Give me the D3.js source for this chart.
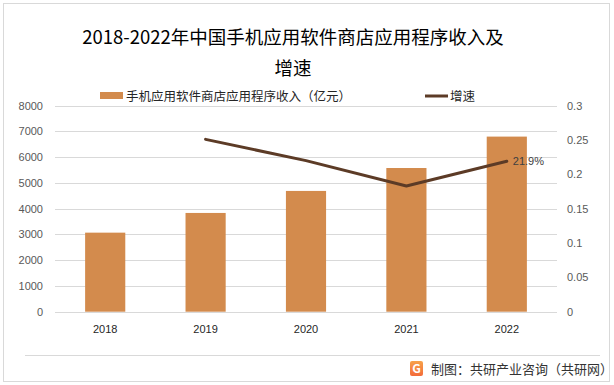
<!DOCTYPE html>
<html>
<head>
<meta charset="utf-8">
<script src="https://cdn.jsdelivr.net/npm/d3@7"></script>
<style>
  body { margin: 0; background: #fff; }
  svg { display: block; font-family: "Noto Sans CJK SC", "Noto Sans", sans-serif; }
  .grid line { stroke: #d9d9d9; stroke-width: 1; }
  .axis text { fill: #595959; font-size: 11px; font-family: "Liberation Sans", "Noto Sans", sans-serif; }
  .axis path, .axis line { display: none; }
  .xlab text { fill: #262626; }
</style>
</head>
<body>
<script>
// Chart data
var years = ["2018", "2019", "2020", "2021", "2022"];
var revenue = [3070, 3835, 4690, 5580, 6800];
var growth = [null, 0.251, 0.22, 0.183, 0.219];
var leftTicks = [0, 1000, 2000, 3000, 4000, 5000, 6000, 7000, 8000];
var rightTicks = [0, 0.05, 0.1, 0.15, 0.2, 0.25, 0.3];

var W = 614, H = 385;
var plot = { left: 55, right: 557, top: 105.7, bottom: 311.7 };

var svg = d3.select("body").append("svg")
  .attr("width", W)
  .attr("height", H);

// outer frame
svg.append("rect")
  .attr("x", 3.5).attr("y", 3.5)
  .attr("width", W - 8).attr("height", H - 7)
  .attr("fill", "none")
  .attr("stroke", "#d9d9d9");

// title
var title = svg.append("text")
  .attr("text-anchor", "middle")
  .attr("fill", "#000")
  .style("font-size", "18.5px");
title.append("tspan").attr("x", 293).attr("y", 44).text("2018-2022年中国手机应用软件商店应用程序收入及");
title.append("tspan").attr("x", 293).attr("y", 75).text("增速");

// scales
var x = d3.scaleBand()
  .domain(years)
  .range([plot.left, plot.right])
  .paddingInner(0.6)
  .paddingOuter(0.3);

var y = d3.scaleLinear().domain([0, 8000]).range([plot.bottom, plot.top]);
var y2 = d3.scaleLinear().domain([0, 0.3]).range([plot.bottom, plot.top]);

// gridlines
svg.append("g")
  .attr("class", "grid")
  .selectAll("line")
  .data(leftTicks)
  .enter().append("line")
  .attr("x1", plot.left)
  .attr("x2", plot.right)
  .attr("y1", function(d) { return Math.round(y(d)) + 0.5; })
  .attr("y2", function(d) { return Math.round(y(d)) + 0.5; });

// left axis
svg.append("g")
  .attr("class", "axis")
  .attr("transform", "translate(" + (plot.left + 2) + ",0)")
  .call(d3.axisLeft(y).tickValues(leftTicks).tickSize(0).tickPadding(14).tickFormat(d3.format("d")));

// right axis
svg.append("g")
  .attr("class", "axis")
  .attr("transform", "translate(" + (plot.right + 10) + ",0)")
  .call(d3.axisRight(y2).tickValues(rightTicks).tickSize(0).tickPadding(0)
    .tickFormat(function(d) { return d3.format("~g")(d); }));

// x axis
svg.append("g")
  .attr("class", "axis xlab")
  .attr("transform", "translate(0," + (plot.bottom + 10) + ")")
  .call(d3.axisBottom(x).tickSize(0).tickPadding(4));

// bars
svg.append("g")
  .selectAll("rect")
  .data(years)
  .enter().append("rect")
  .attr("x", function(d) { return x(d); })
  .attr("width", x.bandwidth())
  .attr("y", function(d, i) { return y(revenue[i]); })
  .attr("height", function(d, i) { return y(0) - y(revenue[i]); })
  .attr("fill", "#d38b4d");

// growth line
var pts = years.map(function(d, i) { return { year: d, g: growth[i] }; })
  .filter(function(d) { return d.g != null; });

var line = d3.line()
  .x(function(d) { return x(d.year) + x.bandwidth() / 2; })
  .y(function(d) { return y2(d.g); });

svg.append("path")
  .attr("d", line(pts))
  .attr("fill", "none")
  .attr("stroke", "#5c3b26")
  .attr("stroke-width", 3)
  .attr("stroke-linejoin", "round")
  .attr("stroke-linecap", "round");

// label on last point
var last = pts[pts.length - 1];
svg.append("text")
  .attr("x", x(last.year) + x.bandwidth() / 2 + 6)
  .attr("y", y2(last.g) + 4)
  .attr("fill", "#404040")
  .style("font-size", "11px")
  .style("font-family", "Liberation Sans, sans-serif")
  .text(d3.format(".1%")(last.g));

// legend
var legend = svg.append("g");
legend.append("rect")
  .attr("x", 100).attr("y", 92)
  .attr("width", 23).attr("height", 7)
  .attr("fill", "#d38b4d");
legend.append("text")
  .attr("x", 126).attr("y", 101)
  .attr("fill", "#262626")
  .style("font-size", "12.5px")
  .text("手机应用软件商店应用程序收入（亿元）");
legend.append("line")
  .attr("x1", 425).attr("x2", 448)
  .attr("y1", 96).attr("y2", 96)
  .attr("stroke", "#5c3b26")
  .attr("stroke-width", 3);
legend.append("text")
  .attr("x", 450).attr("y", 101)
  .attr("fill", "#262626")
  .style("font-size", "12.5px")
  .text("增速");

// footer
svg.append("line")
  .attr("x1", 25).attr("x2", 600)
  .attr("y1", 355.5).attr("y2", 355.5)
  .attr("stroke", "#d9d9d9");

var grad = svg.append("defs").append("linearGradient")
  .attr("id", "logoGrad")
  .attr("x1", "0").attr("y1", "0").attr("x2", "0").attr("y2", "1");
grad.append("stop").attr("offset", "0").attr("stop-color", "#f7a24a");
grad.append("stop").attr("offset", "1").attr("stop-color", "#f36b3a");

svg.append("rect")
  .attr("x", 410).attr("y", 361)
  .attr("width", 13).attr("height", 15)
  .attr("rx", 2)
  .attr("fill", "url(#logoGrad)");
svg.append("text")
  .attr("x", 416.5).attr("y", 373)
  .attr("text-anchor", "middle")
  .attr("fill", "#fff")
  .style("font-size", "12px")
  .style("font-weight", "bold")
  .text("G");

svg.append("text")
  .attr("x", 431).attr("y", 374)
  .attr("fill", "#333")
  .style("font-size", "13px")
  .text("制图：共研产业咨询（共研网）");
</script>
</body>
</html>
